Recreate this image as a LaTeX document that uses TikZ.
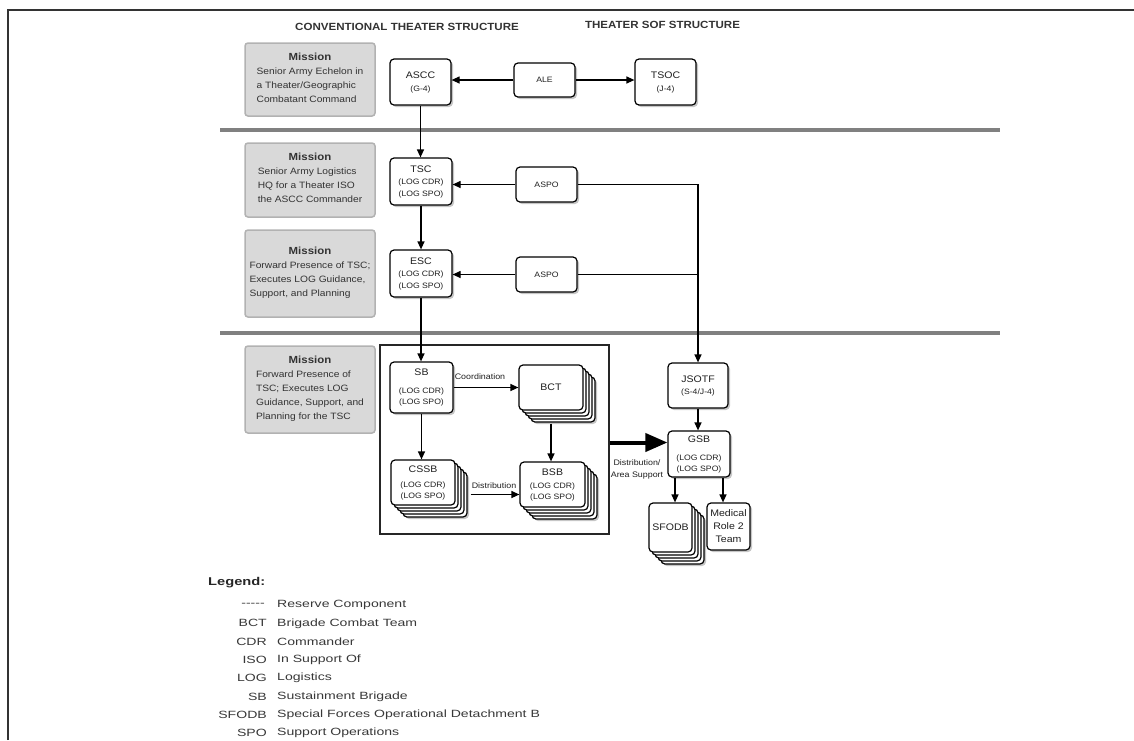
\documentclass[tikz,border=0pt]{standalone}
\usepackage{fontspec}
\setmainfont{Liberation Sans}[FakeStretch=1.11, BoldFeatures={FakeStretch=1.11}]
\newfontfamily\legfont{Liberation Sans}[FakeStretch=1.34, BoldFeatures={FakeStretch=1.3}]
\usetikzlibrary{arrows.meta,shadows,calc}
\newcommand\sm{\fontsize{7.8}{11}\selectfont}
\newcommand\dashrow{{-}{-}{-}{-}{-}}
\tikzset{
  sz/.style 2 args={minimum width=#1pt, minimum height=#2pt},
  basebox/.style={draw=black, line width=1.2pt, fill=white, rounded corners=4pt,
    align=center, inner sep=1pt, text=black!88, font=\fontsize{9.5}{13}\selectfont},
  box/.style={basebox, drop shadow={shadow xshift=2pt, shadow yshift=-2pt, opacity=.45}},
  stackbox/.style={basebox,
    general shadow={shadow xshift=14pt, shadow yshift=-14pt, fill=black!50, opacity=.45},
    copy shadow={shadow xshift=12pt, shadow yshift=-12pt, fill=white, draw=black},
    copy shadow={shadow xshift=9pt, shadow yshift=-9pt, fill=white, draw=black},
    copy shadow={shadow xshift=6pt, shadow yshift=-6pt, fill=white, draw=black},
    copy shadow={shadow xshift=3pt, shadow yshift=-3pt, fill=white, draw=black}},
  mission/.style={fill=black!15, draw=black!30, line width=1.5pt, rounded corners=3pt,
    text=black!80, align=center, inner sep=0pt, font=\fontsize{9.2}{14}\selectfont},
  title/.style={font=\bfseries\fontsize{10.4}{12}\selectfont, text=black!80},
  lbl/.style={font=\fontsize{8}{12}\selectfont, text=black!88, align=center, inner sep=0pt},
  arr/.style={-{Triangle[length=8pt,width=7pt]}, line width=1.2pt},
  lega/.style={anchor=east, inner sep=0pt, font=\legfont\fontsize{10.5}{12}\selectfont, text=black!78},
  legb/.style={anchor=west, inner sep=0pt, font=\legfont\fontsize{10.5}{12}\selectfont, text=black!78},
  sep/.style={line width=4.5pt, black!50}
}
\begin{document}
\begin{tikzpicture}[x=1pt,y=-1pt]
\useasboundingbox (0,0) rectangle (1134,740);
% frame
\draw[line width=1.2pt, black!80] (8,740) -- (8,10) -- (1134,10);
% separators
\draw[sep] (220,130) -- (1000,130);
\draw[sep] (220,333) -- (1000,333);
% titles
\node[title] (t1) at (407,27) {CONVENTIONAL THEATER STRUCTURE};
\node[title] (t2) at (662.5,25) {THEATER SOF STRUCTURE};
% mission boxes
\node[mission,sz={130}{73}] (m1) at (310,79.5) {\textbf{\fontsize{10.3}{14}\selectfont Mission}\\
  \begin{tabular}[t]{@{}l@{}}Senior Army Echelon in\\a Theater/Geographic\\Combatant Command\end{tabular}};
\node[mission,sz={130}{74}] (m2) at (310,180) {\textbf{\fontsize{10.3}{14}\selectfont Mission}\\
  \begin{tabular}[t]{@{}l@{}}Senior Army Logistics\\HQ for a Theater ISO\\the ASCC Commander\end{tabular}};
\node[mission,sz={130}{87}] (m3) at (310,273.5) {\textbf{\fontsize{10.3}{14}\selectfont Mission}\\
  \begin{tabular}[t]{@{}l@{}}Forward Presence of TSC;\\Executes LOG Guidance,\\Support, and Planning\end{tabular}};
\node[mission,sz={130}{87}] (m4) at (310,389.5) {\textbf{\fontsize{10.3}{14}\selectfont Mission}\\
  \begin{tabular}[t]{@{}l@{}}Forward Presence of\\TSC; Executes LOG\\Guidance, Support, and\\Planning for the TSC\end{tabular}};
% big frame
\node[draw=black!85, line width=1.2pt, sz={229}{189}, inner sep=0pt] (big) at (494.5,439.5) {};
% boxes
\node[box,sz={61}{46}] (ascc) at (420.5,82) {ASCC\\{\sm(G-4)}};
\node[box,sz={61}{34}] (ale) at (544.5,80) {\sm ALE};
\node[box,sz={61}{46}] (tsoc) at (665.5,82) {TSOC\\{\sm(J-4)}};
\node[box,sz={62}{47}] (tsc) at (421,181.5) {TSC\\[-1pt]{\sm(LOG CDR)}\\[-1pt]{\sm(LOG SPO)}};
\node[box,sz={61}{35}] (aspo1) at (546.5,184.5) {\sm ASPO};
\node[box,sz={62}{47}] (esc) at (421,273.5) {ESC\\[-1pt]{\sm(LOG CDR)}\\[-1pt]{\sm(LOG SPO)}};
\node[box,sz={61}{35}] (aspo2) at (546.5,274.5) {\sm ASPO};
\node[box,sz={63}{51}] (sb) at (421.5,387.5) {SB\\[5pt]{\sm(LOG CDR)}\\[-2pt]{\sm(LOG SPO)}};
\node[stackbox,sz={64}{45}] (bct) at (551,387.5) {BCT};
\node[stackbox,sz={64}{45}] (cssb) at (423,482.5) {CSSB\\[2pt]{\sm(LOG CDR)}\\[-2pt]{\sm(LOG SPO)}};
\node[stackbox,sz={65}{45}] (bsb) at (552.5,484.5) {BSB\\[0pt]{\sm(LOG CDR)}\\[-2pt]{\sm(LOG SPO)}};
\node[box,sz={60}{45}] (jsotf) at (698,385.5) {JSOTF\\[-1pt]{\sm(S-4/J-4)}};
\node[box,sz={62}{46}] (gsb) at (699,454) {GSB\\[5pt]{\sm(LOG CDR)}\\[-2pt]{\sm(LOG SPO)}};
\node[stackbox,sz={43}{49}] (sfodb) at (670.5,527.5) {SFODB};
\node[box,sz={43}{47}] (med) at (728.5,526.5) {\fontsize{9.5}{13.5}\selectfont Medical\\Role 2\\Team};
% labels
\node[lbl] (coord) at (480,377) {Coordination};
\node[lbl] (dist) at (494,486) {Distribution};
\node[lbl] (da) at (637,469) {Distribution/\\Area Support};
% connectors
\draw[arr] (ale.west) -- (ascc.east |- ale.west);
\draw[arr] (ale.east) -- (tsoc.west |- ale.east);
\draw[arr] (ascc.south) -- (ascc.south |- tsc.north);
\draw[arr] (aspo1.west) -- (tsc.east |- aspo1.west);
\draw[arr] (tsc.south) -- (tsc.south |- esc.north);
\draw[arr] (aspo2.west) -- (esc.east |- aspo2.west);
\draw[arr] (aspo1.east) -| (jsotf.north);
\draw[line width=1.2pt] (aspo2.east) -- (aspo2.east -| jsotf.north);
\draw[arr] (esc.south) -- (esc.south |- sb.north);
\draw[arr] (sb.east) -- (bct.west |- sb.east);
\draw[arr] (sb.south) -- (sb.south |- cssb.north);
\draw[arr, shorten <=13pt] (bct.south) -- (bct.south |- bsb.north);
\draw[arr, shorten <=15pt] ([yshift=-12pt]cssb.east) -- ([yshift=-12pt]cssb.east -| bsb.west);
\draw[-{Triangle[length=22pt,width=18pt]}, line width=4pt] ([yshift=-3pt]big.east) -- ([yshift=-3pt]big.east -| gsb.west);
\draw[arr] (jsotf.south) -- (jsotf.south |- gsb.north);
\draw[arr] ([xshift=-24pt]gsb.south) -- ([xshift=-24pt]gsb.south |- sfodb.north);
\draw[arr] ([xshift=24pt]gsb.south) -- ([xshift=24pt]gsb.south |- med.north);
% legend
\node[anchor=west, inner sep=0pt, font=\legfont\bfseries\fontsize{11.3}{13}\selectfont, text=black!85] (leg) at (208,583) {Legend:};
\node[lega] (la1) at (265,605) {\dashrow};
\node[legb] (lb1) at (277,605) {Reserve Component};
\node[lega] (la2) at (267,623.3) {BCT};
\node[legb] (lb2) at (277,623.3) {Brigade Combat Team};
\node[lega] (la3) at (267,641.6) {CDR};
\node[legb] (lb3) at (277,641.6) {Commander};
\node[lega] (la4) at (267,659.9) {ISO};
\node[legb] (lb4) at (277,659.9) {In Support Of};
\node[lega] (la5) at (267,678.2) {LOG};
\node[legb] (lb5) at (277,678.2) {Logistics};
\node[lega] (la6) at (267,696.5) {SB};
\node[legb] (lb6) at (277,696.5) {Sustainment Brigade};
\node[lega] (la7) at (267,714.8) {SFODB};
\node[legb] (lb7) at (277,714.8) {Special Forces Operational Detachment B};
\node[lega] (la8) at (267,733.1) {SPO};
\node[legb] (lb8) at (277,733.1) {Support Operations};
\end{tikzpicture}
\end{document}
